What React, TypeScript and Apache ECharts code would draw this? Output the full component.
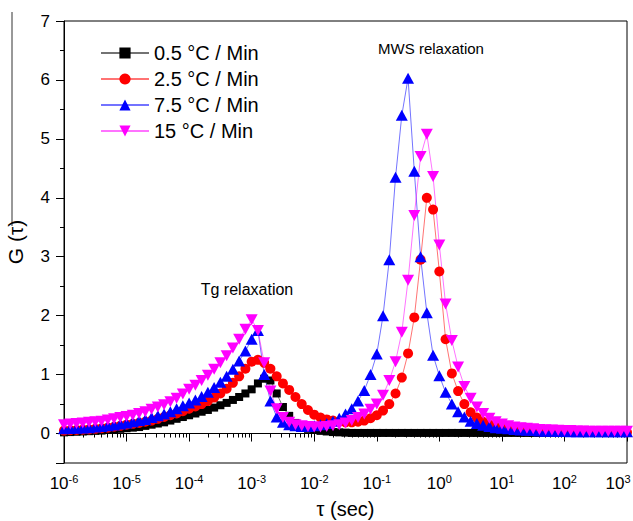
import React, { useEffect, useRef } from "react";
import * as echarts from "echarts";

// log10(tau / sec) grid
const tauExp = [
  -6.0, -5.9, -5.8, -5.7, -5.6, -5.5, -5.4, -5.3, -5.2, -5.1,
  -5.0, -4.9, -4.8, -4.7, -4.6, -4.5, -4.4, -4.3, -4.2, -4.1,
  -4.0, -3.9, -3.8, -3.7, -3.6, -3.5, -3.4, -3.3, -3.2, -3.1,
  -3.0, -2.9, -2.8, -2.7, -2.6, -2.5, -2.4, -2.3, -2.2, -2.1,
  -2.0, -1.9, -1.8, -1.7, -1.6, -1.5, -1.4, -1.3, -1.2, -1.1,
  -1.0, -0.9, -0.8, -0.7, -0.6, -0.5, -0.4, -0.3, -0.2, -0.1,
  0.0, 0.1, 0.2, 0.3, 0.4, 0.5, 0.6, 0.7, 0.8, 0.9,
  1.0, 1.1, 1.2, 1.3, 1.4, 1.5, 1.6, 1.7, 1.8, 1.9,
  2.0, 2.1, 2.2, 2.3, 2.4, 2.5, 2.6, 2.7, 2.8, 2.9,
  3.0,
];

const g05 = [
  0.02, 0.025, 0.03, 0.035, 0.04, 0.045, 0.05, 0.06, 0.07, 0.08,
  0.09, 0.1, 0.11, 0.13, 0.15, 0.17, 0.19, 0.22, 0.25, 0.28,
  0.31, 0.34, 0.37, 0.4, 0.44, 0.48, 0.52, 0.57, 0.62, 0.68,
  0.75, 0.85, 0.93, 0.9, 0.68, 0.45, 0.3, 0.18, 0.12, 0.08,
  0.06, 0.045, 0.035, 0.025, 0.02, 0.015, 0.01, 0.01, 0.01, 0.01,
  0.01, 0.01, 0.01, 0.01, 0.01, 0.01, 0.01, 0.01, 0.01, 0.01,
  0.01, 0.01, 0.01, 0.01, 0.01, 0.01, 0.01, 0.01, 0.01, 0.01,
  0.01, 0.01, 0.01, 0.01, 0.01, 0.01, 0.01, 0.01, 0.01, 0.01,
  0.01, 0.01, 0.01, 0.01, 0.01, 0.01, 0.01, 0.01, 0.01, 0.01,
  0.01,
];

const g25 = [
  0.05, 0.055, 0.06, 0.065, 0.07, 0.08, 0.09, 0.1, 0.115, 0.13,
  0.15, 0.165, 0.18, 0.2, 0.22, 0.25, 0.28, 0.31, 0.34, 0.38,
  0.42, 0.46, 0.5, 0.55, 0.61, 0.68, 0.76, 0.86, 0.97, 1.1,
  1.22, 1.25, 1.2, 1.1, 0.97, 0.85, 0.74, 0.62, 0.5, 0.4,
  0.32, 0.27, 0.24, 0.22, 0.2, 0.19, 0.19, 0.2, 0.22, 0.26,
  0.31, 0.39, 0.5, 0.68, 0.95, 1.36, 1.97, 2.95, 4.0, 3.8,
  2.75, 1.6, 1.02, 0.72, 0.5, 0.36, 0.27, 0.2, 0.15, 0.12,
  0.1, 0.085, 0.07, 0.06, 0.05, 0.045, 0.04, 0.035, 0.03, 0.03,
  0.025, 0.025, 0.025, 0.025, 0.025, 0.025, 0.025, 0.025, 0.025, 0.025,
  0.02,
];

const g75 = [
  0.08, 0.085, 0.09, 0.095, 0.1, 0.11, 0.12, 0.13, 0.145, 0.16,
  0.18, 0.2, 0.22, 0.24, 0.27, 0.3, 0.33, 0.37, 0.42, 0.47,
  0.52, 0.57, 0.63, 0.7, 0.78, 0.87, 0.97, 1.09, 1.23, 1.4,
  1.6, 1.75, 1.0, 0.55, 0.28, 0.19, 0.15, 0.13, 0.12, 0.12,
  0.13, 0.15, 0.17, 0.21, 0.26, 0.33, 0.42, 0.55, 0.73, 1.0,
  1.35, 2.0, 2.95, 4.35, 5.4, 6.03, 4.45, 3.0, 2.05, 1.33,
  0.98, 0.7, 0.5, 0.37, 0.28, 0.21, 0.17, 0.14, 0.12, 0.1,
  0.09, 0.08, 0.07, 0.06, 0.055, 0.05, 0.045, 0.04, 0.04, 0.035,
  0.035, 0.03, 0.03, 0.03, 0.03, 0.03, 0.03, 0.03, 0.03, 0.03,
  0.03,
];

const g15 = [
  0.15, 0.16, 0.17, 0.18, 0.19, 0.2, 0.21, 0.23, 0.25, 0.27,
  0.29, 0.31, 0.34, 0.37, 0.41, 0.45, 0.49, 0.54, 0.6, 0.67,
  0.75, 0.82, 0.9, 0.99, 1.09, 1.2, 1.32, 1.45, 1.6, 1.77,
  1.93, 1.75, 1.2, 0.72, 0.42, 0.27, 0.19, 0.15, 0.13, 0.12,
  0.11, 0.11, 0.12, 0.13, 0.15, 0.18, 0.22, 0.27, 0.33, 0.41,
  0.5, 0.65, 0.9, 1.22, 1.72, 2.6, 3.7, 4.7, 5.08, 4.36,
  3.2, 2.2, 1.58, 1.13, 0.8, 0.6, 0.45, 0.34, 0.26, 0.2,
  0.16, 0.13, 0.11, 0.1, 0.09, 0.08, 0.07, 0.065, 0.06, 0.055,
  0.05, 0.05, 0.045, 0.045, 0.04, 0.04, 0.04, 0.04, 0.04, 0.04,
  0.04,
];

const seriesNames = ["0.5 °C / Min", "2.5 °C / Min", "7.5 °C / Min", "15 °C / Min"];
const seriesColors = ["#000000", "#ff0000", "#0000ff", "#ff00ff"];
const yLabelValues = [0, 1, 2, 3, 4, 5, 6, 7];
const yMajorTicks = [-0.5, 0, 1, 2, 3, 4, 5, 6, 7];
const yMinorTicks = [0.5, 1.5, 2.5, 3.5, 4.5, 5.5, 6.5];
const xDecadeExp = [-6, -5, -4, -3, -2, -1, 0, 1, 2, 3];
const xMinorMult = [2, 3, 4, 5, 6, 7, 8, 9];

const FONT = "Liberation Sans, Arial, sans-serif";

export default function App() {
  const ref = useRef<HTMLDivElement>(null);
  useEffect(() => {
    if (!ref.current) return;
    const chart = echarts.init(ref.current, null, { renderer: "svg" });
    const tau = tauExp.map((e) => Math.pow(10, e));
    const mk = (vals: number[]) => tau.map((t, i) => [t, vals[i]]);
    const xMajor = xDecadeExp.map((e) => Math.pow(10, e));
    const xMinor: number[] = [];
    xDecadeExp.slice(0, -1).forEach((e) => xMinorMult.forEach((m) => xMinor.push(m * Math.pow(10, e))));
    const lastExp = xDecadeExp[xDecadeExp.length - 1];

    const symbols = ["rect", "circle", "triangle", "triangle"];
    const sizes: any[] = [8, 10, [12, 11], [12, 11]];
    const rot = [0, 0, 0, 180];
    const datas = [g05, g25, g75, g15];

    chart.setOption({
      animation: false,
      backgroundColor: "#ffffff",
      grid: {
        left: 64,
        top: 21,
        right: 6,
        bottom: 58,
        outerBoundsMode: "none",
        containLabel: false,
        show: true,
        borderColor: "#000",
        borderWidth: 1,
        backgroundColor: "transparent",
      },
      legend: {
        orient: "vertical",
        left: 100,
        top: 43,
        padding: 0,
        itemWidth: 48,
        itemHeight: 14,
        itemGap: 6,
        textStyle: { fontSize: 20, color: "#000", fontFamily: FONT },
        data: seriesNames,
      },
      xAxis: [
        {
          type: "log",
          logBase: 10,
          min: 1e-6,
          max: 1e3,
          name: "τ (sec)",
          nameLocation: "middle",
          nameGap: 36,
          nameTextStyle: { fontSize: 20, color: "#000", fontFamily: FONT },
          axisLine: { show: true, lineStyle: { color: "#000", width: 1 } },
          axisTick: { show: true, length: 8, customValues: xMajor, lineStyle: { color: "#000" } },
          splitLine: { show: false },
          axisLabel: {
            customValues: xMajor,
            margin: 10,
            color: "#000",
            formatter: (v: number) => {
              const e = Math.round(Math.log10(v));
              return e === lastExp ? `{b|10}{t|${e}}` : `{b|10}{s|${e}}`;
            },
            rich: {
              b: { fontSize: 17, fontFamily: FONT, color: "#000" },
              s: { fontSize: 11, fontFamily: FONT, color: "#000", padding: [0, 0, 10, 0] },
              t: { fontSize: 11, fontFamily: FONT, color: "#000", padding: [0, 18, 10, 0] },
            },
          },
        },
        {
          type: "log",
          logBase: 10,
          min: 1e-6,
          max: 1e3,
          position: "bottom",
          axisLine: { show: false },
          axisTick: { show: true, length: 4, customValues: xMinor, lineStyle: { color: "#000" } },
          axisLabel: { show: false },
          splitLine: { show: false },
        },
      ],
      yAxis: [
        {
          type: "value",
          min: -0.5,
          max: 7,
          name: "G (τ)",
          nameLocation: "middle",
          nameGap: 38,
          nameTextStyle: { fontSize: 21, color: "#000", fontFamily: FONT },
          axisLine: { show: true, lineStyle: { color: "#000", width: 1 } },
          axisTick: { show: true, length: 8, customValues: yMajorTicks, lineStyle: { color: "#000" } },
          splitLine: { show: false },
          axisLabel: {
            customValues: yLabelValues,
            margin: 14,
            fontSize: 17,
            color: "#000",
            fontFamily: FONT,
          },
        },
        {
          type: "value",
          min: -0.5,
          max: 7,
          position: "left",
          axisLine: { show: false },
          axisTick: { show: true, length: 4, customValues: yMinorTicks, lineStyle: { color: "#000" } },
          axisLabel: { show: false },
          splitLine: { show: false },
        },
      ],
      graphic: [
        { type: "line", shape: { x1: 12, y1: 12, x2: 12, y2: 226 }, style: { stroke: "#333", lineWidth: 1 } },
        {
          type: "text",
          x: 431,
          y: 48,
          style: { text: "MWS relaxation", font: `15px ${FONT}`, fill: "#000", textAlign: "center", textVerticalAlign: "middle" },
        },
        {
          type: "text",
          x: 247,
          y: 289,
          style: { text: "Tg relaxation", font: `16px ${FONT}`, fill: "#000", textAlign: "center", textVerticalAlign: "middle" },
        },
      ],
      series: datas.map((d, i) => ({
        name: seriesNames[i],
        type: "line",
        data: mk(d),
        xAxisIndex: 0,
        yAxisIndex: 0,
        symbol: symbols[i],
        symbolSize: sizes[i],
        symbolRotate: rot[i],
        showAllSymbol: true,
        color: seriesColors[i],
        itemStyle: { color: seriesColors[i] },
        lineStyle: { color: seriesColors[i], width: 1, opacity: 0.55 },
        emphasis: { disabled: true },
      })),
    });
    return () => chart.dispose();
  }, []);
  return <div ref={ref} style={{ position: "fixed", left: 0, top: 0, width: 633, height: 521 }} />;
}
